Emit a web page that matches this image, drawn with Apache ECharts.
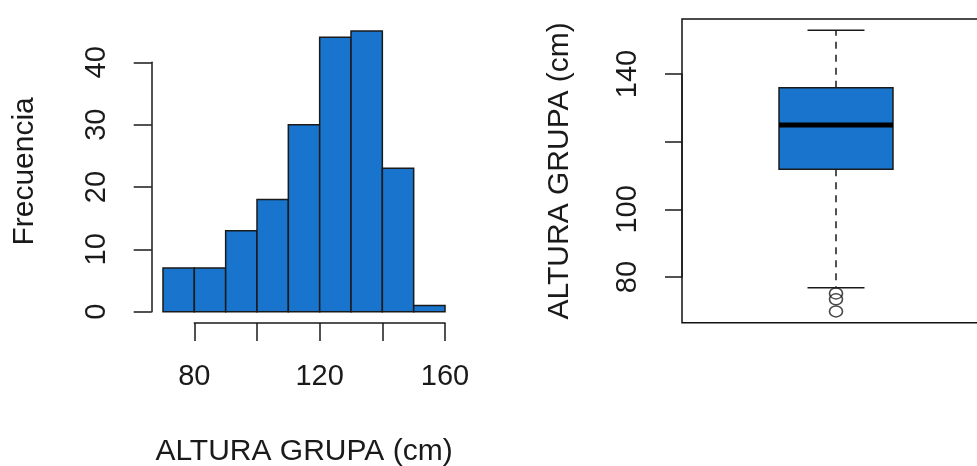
<!DOCTYPE html>
<html>
<head>
<meta charset="utf-8">
<script src="https://cdn.jsdelivr.net/npm/echarts@6/dist/echarts.min.js"></script>
<style>
  html, body { margin: 0; padding: 0; background: #fff; }
  #chart { width: 977px; height: 466px; }
</style>
</head>
<body>
<div id="chart"></div>
<script>
// Histogram: bin edges (cm) and counts per bin
const binEdges = [70, 80, 90, 100, 110, 120, 130, 140, 150, 160];
const counts = [7, 7, 13, 18, 30, 44, 45, 23, 1];

// Boxplot: lower whisker, Q1, median, Q3, upper whisker, and outliers (cm)
const boxStats = [77, 112, 125, 136, 153];
const outliers = [75.3, 73.6, 70];

// Tick labels that are printed on each axis
const histXLabels = [80, 120, 160];
const histYLabels = [0, 10, 20, 30, 40];
const boxYLabels = [80, 100, 140];

const FONT = "'Liberation Sans', Arial, sans-serif";
const INK = '#1a1a1a';
const FILL = '#1874CD';

const histData = counts.map((c, i) => [binEdges[i], binEdges[i + 1], c]);

const hidden = { axisLine: { show: false }, axisTick: { show: false }, axisLabel: { show: false }, splitLine: { show: false } };

const chart = echarts.init(document.getElementById('chart'), null, { renderer: 'canvas' });

chart.setOption({
  backgroundColor: '#fff',
  animation: false,
  textStyle: { fontFamily: FONT, color: INK },
  grid: [
    // histogram plotting region
    { left: 151.7, top: 19.9, width: 304.6, height: 303, outerBoundsMode: 'none', containLabel: false },
    // histogram x axis (80 to 160)
    { left: 194.3, top: 300, width: 250.7, height: 22.9, outerBoundsMode: 'none', containLabel: false },
    // histogram y axis (0 to 40)
    { left: 151.7, top: 62.3, width: 10, height: 249.4, outerBoundsMode: 'none', containLabel: false },
    // boxplot plotting region, framed
    { left: 682, top: 19, width: 308, height: 303.7, show: true, borderColor: '#111', borderWidth: 1.5,
      backgroundColor: 'transparent', outerBoundsMode: 'none', containLabel: false },
    // boxplot y axis (80 to 140)
    { left: 682, top: 74, width: 10, height: 203, outerBoundsMode: 'none', containLabel: false }
  ],
  xAxis: [
    Object.assign({ type: 'value', gridIndex: 0, min: 66.4, max: 163.6,
      name: 'ALTURA GRUPA (cm)', nameLocation: 'middle', nameGap: 114,
      nameTextStyle: { fontSize: 30, color: INK, fontFamily: FONT } }, hidden),
    { type: 'value', gridIndex: 1, min: 80, max: 160, interval: 20,
      axisLine: { show: true, lineStyle: { color: INK, width: 1.5 } },
      axisTick: { show: true, inside: false, length: 18, lineStyle: { color: INK, width: 1.5 } },
      axisLabel: { show: true, margin: 40, fontSize: 29, color: INK, fontFamily: FONT,
        formatter: v => histXLabels.includes(v) ? String(v) : '' },
      splitLine: { show: false } },
    Object.assign({ type: 'value', gridIndex: 2, min: 0, max: 1 }, hidden),
    Object.assign({ type: 'value', gridIndex: 3, min: 0.5, max: 1.5 }, hidden),
    Object.assign({ type: 'value', gridIndex: 4, min: 0, max: 1 }, hidden)
  ],
  yAxis: [
    Object.assign({ type: 'value', gridIndex: 0, min: -1.8, max: 46.8,
      name: 'Frecuencia', nameLocation: 'middle', nameGap: 112, nameRotate: 90,
      nameTextStyle: { fontSize: 30, color: INK, fontFamily: FONT } }, hidden),
    Object.assign({ type: 'value', gridIndex: 1, min: 0, max: 1 }, hidden),
    { type: 'value', gridIndex: 2, min: 0, max: 40, interval: 10,
      axisLine: { show: true, lineStyle: { color: INK, width: 1.5 } },
      axisTick: { show: true, inside: false, length: 18, lineStyle: { color: INK, width: 1.5 } },
      axisLabel: { show: true, margin: 40, rotate: 90, fontSize: 29, color: INK, fontFamily: FONT,
        formatter: v => histYLabels.includes(v) ? String(v) : '' },
      splitLine: { show: false } },
    Object.assign({ type: 'value', gridIndex: 3, min: 66.68, max: 156.32,
      name: 'ALTURA GRUPA (cm)', nameLocation: 'middle', nameGap: 107, nameRotate: 90,
      nameTextStyle: { fontSize: 30, color: INK, fontFamily: FONT } }, hidden),
    { type: 'value', gridIndex: 4, min: 80, max: 140, interval: 20,
      axisLine: { show: true, lineStyle: { color: INK, width: 1.5 } },
      axisTick: { show: true, inside: false, length: 17, lineStyle: { color: INK, width: 1.5 } },
      axisLabel: { show: true, margin: 40, rotate: 90, fontSize: 29, color: INK, fontFamily: FONT,
        formatter: v => boxYLabels.includes(v) ? String(v) : '' },
      splitLine: { show: false } }
  ],
  series: [
    {
      // histogram bars, one rectangle per bin
      type: 'custom',
      xAxisIndex: 0, yAxisIndex: 0,
      data: histData,
      encode: { x: [0, 1], y: 2 },
      renderItem: function (params, api) {
        const p0 = api.coord([api.value(0), 0]);
        const p1 = api.coord([api.value(1), api.value(2)]);
        return {
          type: 'rect',
          shape: { x: p0[0], y: p1[1], width: p1[0] - p0[0], height: p0[1] - p1[1] },
          style: { fill: FILL, stroke: INK, lineWidth: 1.5 }
        };
      }
    },
    {
      // box, median and dashed whiskers with short caps
      type: 'custom',
      xAxisIndex: 3, yAxisIndex: 3,
      data: [[1].concat(boxStats)],
      encode: { x: 0, y: [1, 2, 3, 4, 5] },
      renderItem: function (params, api) {
        const x = api.value(0);
        const cx = api.coord([x, api.value(1)])[0];
        const halfBox = api.size([0.185, 0])[0];
        const halfCap = halfBox / 2;
        const yLow = api.coord([x, api.value(1)])[1];
        const yQ1 = api.coord([x, api.value(2)])[1];
        const yMed = api.coord([x, api.value(3)])[1];
        const yQ3 = api.coord([x, api.value(4)])[1];
        const yHigh = api.coord([x, api.value(5)])[1];
        const solid = { stroke: INK, lineWidth: 1.5 };
        const dashed = { stroke: INK, lineWidth: 1.5, lineDash: [7, 6] };
        return {
          type: 'group',
          children: [
            { type: 'line', shape: { x1: cx, y1: yQ3, x2: cx, y2: yHigh }, style: dashed },
            { type: 'line', shape: { x1: cx, y1: yQ1, x2: cx, y2: yLow }, style: dashed },
            { type: 'line', shape: { x1: cx - halfCap, y1: yHigh, x2: cx + halfCap, y2: yHigh }, style: solid },
            { type: 'line', shape: { x1: cx - halfCap, y1: yLow, x2: cx + halfCap, y2: yLow }, style: solid },
            { type: 'rect', shape: { x: cx - halfBox, y: yQ3, width: 2 * halfBox, height: yQ1 - yQ3 },
              style: { fill: FILL, stroke: INK, lineWidth: 1.5 } },
            { type: 'line', shape: { x1: cx - halfBox, y1: yMed, x2: cx + halfBox, y2: yMed },
              style: { stroke: '#000', lineWidth: 5 } }
          ]
        };
      }
    },
    {
      // outliers as open circles
      type: 'scatter',
      xAxisIndex: 3, yAxisIndex: 3,
      data: outliers.map(v => [1, v]),
      symbol: 'circle',
      symbolSize: [13, 11],
      itemStyle: { color: 'rgba(0,0,0,0)', borderColor: INK, borderWidth: 1.5 }
    }
  ]
});
</script>
</body>
</html>
